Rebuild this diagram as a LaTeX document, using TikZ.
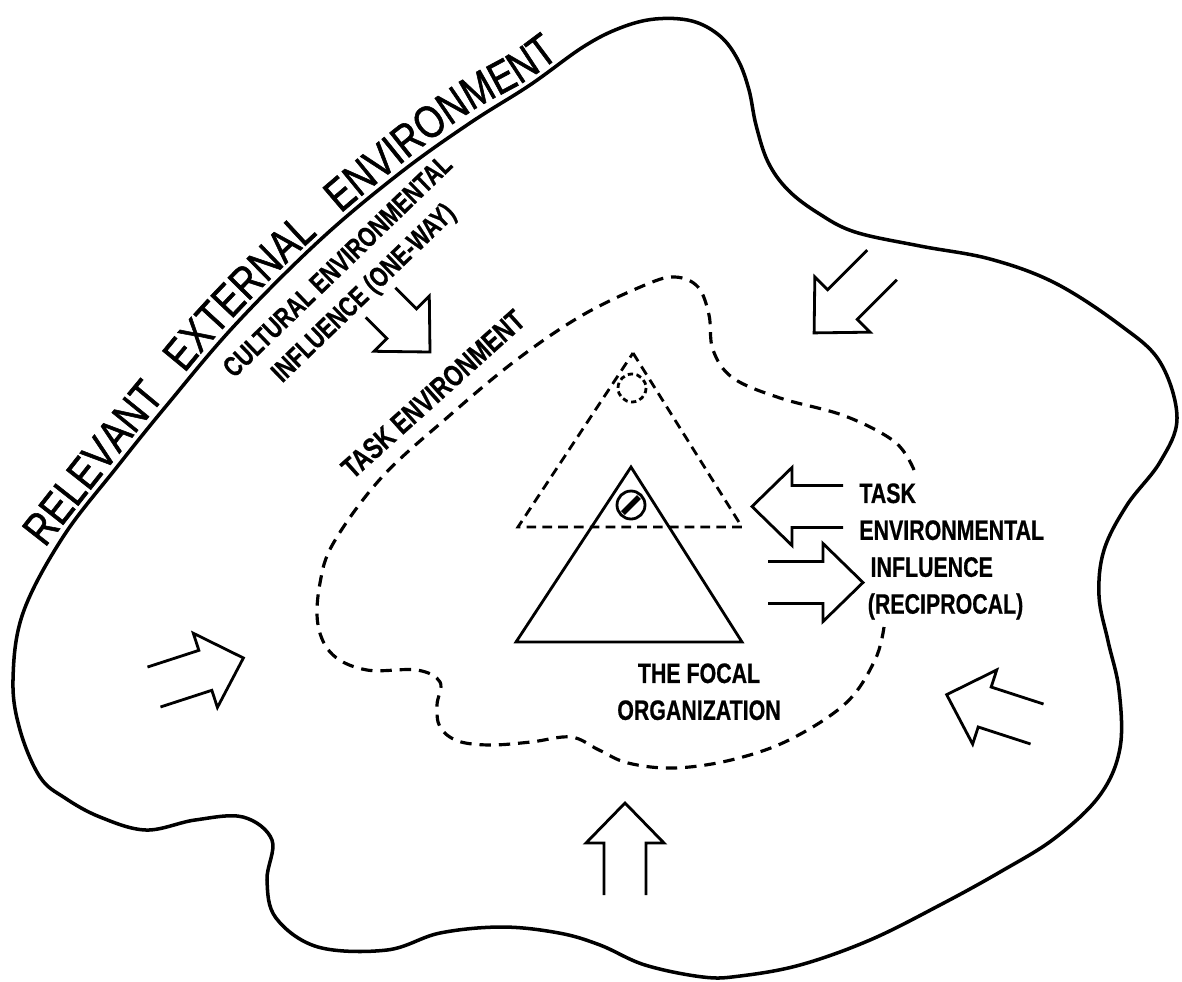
\documentclass[tikz,border=0pt]{standalone}
\usepackage{fontspec}
\usepackage{tikz}
\usetikzlibrary{decorations.text}
\newfontfamily\labelfont[FakeStretch=0.76, BoldFeatures={FakeBold=0.6}]{Liberation Sans}
\newfontfamily\envfont[FakeStretch=0.8, FakeBold=1.2]{Liberation Sans}
% open double-line arrow: tail centre, direction, length
\def\fatarrow[#1](#2)(#3:#4){\draw[#1, shift={(#2)}, rotate=#3] (0, 21) -- (#4-40, 21) -- (#4-40, 39) -- (#4, 0) -- (#4-40, -39) -- (#4-40, -21) -- (0, -21);}

\begin{document}
\begin{tikzpicture}[x=0.02cm, y=-0.02cm,
		envline/.style={line width=2pt},
		taskline/.style={line width=1.8pt, dash pattern=on 6.5pt off 4.5pt},
		orgline/.style={line width=1.6pt},
		arrowline/.style={line width=1.6pt},
		lbl/.style={inner sep=0pt, font=\labelfont\bfseries\fontsize{16}{21}\selectfont}]
		%%%%% START %%%%%
		\fill[white] (0,0) rectangle (1182,981);
		\useasboundingbox (0,0) rectangle (1182,981);
		
		% relevant external environment
		\draw[envline] plot[smooth cycle, tension=0.6] coordinates {
			(40,777) (20,730) (13,680) (23,613) (63,537) (117,467) (167,405) (235,325)
			(320,240) (400,173) (470,123) (530,85) (583,47) (620,28) (655,19) (692,21)
			(720,36) (738,60) (749,90) (756,125) (768,162) (788,190) (818,213) (855,232)
			(920,246) (990,259) (1055,283) (1120,325) (1160,362) (1177,418) (1160,462)
			(1127,505) (1104,550) (1099,596) (1108,641) (1119,690) (1120,748) (1100,795)
			(1055,838) (1000,872) (940,905) (870,940) (800,965) (740,976) (703,977)
			(645,965) (600,945) (559,933) (502,927) (440,933) (387,950) (318,947)
			(276,918) (267,880) (272,840) (243,817) (195,820) (146,830) (100,817) (65,798)};
		\path[decorate, decoration={text along path, text align=left,
			text={|\envfont\fontsize{26}{26}\selectfont|RELEVANT{\hspace{0.45em}} EXTERNAL{\hspace{0.45em}} ENVIRONMENT}}]
			plot[smooth, tension=0.7] coordinates {(45,548) (112,463) (162,401) (230,321) (316,236) (396,168) (466,115) (527,80) (582,42) (630,22) (680,14)};
		
		% task environment
		\draw[taskline] plot[smooth, tension=0.6] coordinates {
			(884,627) (875,660) (846,703) (789,740) (731,760) (674,768) (628,763) (599,750)
			(571,737) (531,742) (490,745) (458,741) (440,727) (437,705) (440,682) (417,670)
			(367,670) (333,655) (318,625) (320,583) (334,542) (382,477) (449,416) (515,361)
			(581,316) (645,285) (675,277) (698,287) (709,315) (713,350) (733,378) (780,398)
			(845,416) (895,442) (914,470)};
		\node[lbl, rotate=42, font=\labelfont\bfseries\fontsize{17}{21}\selectfont] (tasklbl) at (433,394) {TASK ENVIRONMENT};
		
		% the focal organization
		\draw[orgline, dash pattern=on 5.5pt off 3.5pt] (633,353) -- (742,527) -- (518,527) -- cycle;
		\draw[orgline, dash pattern=on 3pt off 2pt] (632,388) circle (14);
		\draw[orgline] (631,467) -- (742,642) -- (516,642) -- cycle;
		\draw[orgline] (631,505) circle (14);
		\draw[line width=3.2pt] (639,497) -- (623,513);
		\node[lbl, anchor=north, align=center] (focal) at (699,663) {THE FOCAL\\ORGANIZATION};
		
		% influences
		\node[lbl, rotate=44, align=center] (cultinfl) at (352,281) {CULTURAL ENVIRONMENTAL\\INFLUENCE (ONE-WAY)};
		\fatarrow[arrowline](380.5,302.5)(-45:70)
		
		\node[lbl, anchor=north west, align=left] (taskinfl) at (859,483) {TASK\\ENVIRONMENTAL\\\hspace*{0.4em}INFLUENCE\\\hspace*{0.3em}(RECIPROCAL)};
		\fatarrow[arrowline](843,506.5)(180:91)
		\fatarrow[arrowline](768,582.5)(0:95)
		
		\fatarrow[arrowline](882,265)(-135:96)
		\fatarrow[arrowline](154,687)(18:94)
		\fatarrow[arrowline](625,895)(90:92)
		\fatarrow[arrowline](1037,724)(162:95)
		%%%%% END %%%%%
	\end{tikzpicture}
\end{document}
